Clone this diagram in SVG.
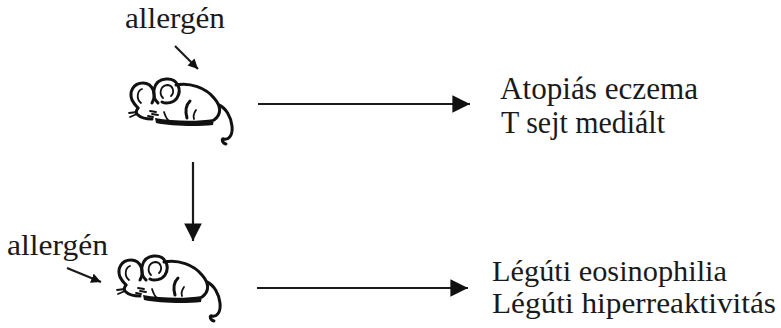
<svg xmlns="http://www.w3.org/2000/svg" xmlns:xlink="http://www.w3.org/1999/xlink" width="781" height="328" viewBox="0 0 781 328">
  <style>
    .lbl { font-family: "Liberation Serif", "Times New Roman", serif; fill: #1a1a1a; }
    .big { font-size: 32px; }
    .mid { font-size: 30px; }
    .small { font-size: 29px; }
    .conn { stroke: #1a1a1a; stroke-width: 2.2; fill: none; }
    .ink { stroke: #111; stroke-width: 3; fill: none; stroke-linecap: round; stroke-linejoin: round; }
    .thin { stroke: #111; stroke-width: 1.8; fill: none; stroke-linecap: round; }
  </style>
  <defs>
    <marker id="head" viewBox="0 0 10 10" refX="10" refY="5" markerWidth="8" markerHeight="8" markerUnits="strokeWidth" orient="auto">
      <path d="M0,0 L10,5 L0,10 Z" fill="#111"/>
    </marker>
    <marker id="headSmall" viewBox="0 0 10 10" refX="10" refY="5" markerWidth="4.5" markerHeight="4.5" markerUnits="strokeWidth" orient="auto">
      <path d="M0,0 L10,5 L0,10 Z" fill="#111"/>
    </marker>
    <!-- sleeping mouse clip-art -->
    <g id="mouse">
      <!-- left ear -->
      <path class="ink" d="M152,103 C157,95 153,83 143,83 C133,83 129,92 132,100 C134,104 136,106 138,108"/>
      <path class="thin" d="M141,103 C136,99 137,91 142,89"/>
      <!-- right ear -->
      <path class="ink" d="M158,103 C151,97 152,80 166,79 C178,78 182,90 177,98 C174,103 166,104 162,102"/>
      <path class="thin" d="M163,98 C159,94 160,86 167,85 C173,85 175,92 171,96"/>
      <!-- body outline -->
      <path class="ink" d="M176,85 C190,82 206,88 214,98 C221,106 222,114 214,120"/>
      <!-- face and snout -->
      <path class="ink" d="M138,108 C136,111 135,113 138,115 C141,118 147,119 152,119"/>
      <path class="thin" d="M150,111 L156,112 M152,114 L158,115 M148,116 L153,117"/>
      <!-- whiskers -->
      <path class="thin" d="M137,112 L129,113 M137,114 L130,117"/>
      <!-- legs -->
      <path class="ink" d="M190,101 C186,105 185,111 187,118"/>
      <path class="thin" d="M196,110 C194,113 193,116 194,119"/>
      <path class="thin" d="M164,112 C165,115 166,118 168,120"/>
      <!-- belly shadow -->
      <path d="M155,118 C172,121 196,122 214,119 L213,125 C196,127 170,126 156,123 Z" fill="#111"/>
      <!-- tail -->
      <path class="ink" d="M219,105 C226,108 231,117 232,126 C233,135 229,140 224,139 C221,138 222,143 226,144"/>
    </g>
  </defs>

  <g id="connectors">
    <line class="conn" x1="258" y1="104" x2="470" y2="104" marker-end="url(#head)"/>
    <line class="conn" x1="193" y1="162" x2="193" y2="241" marker-end="url(#head)"/>
    <line class="conn" x1="257" y1="288" x2="468" y2="288" marker-end="url(#head)"/>
    <line class="conn" x1="175" y1="46" x2="198" y2="69" stroke-width="3.2" marker-end="url(#headSmall)"/>
    <line class="conn" x1="67" y1="268" x2="101" y2="282" stroke-width="3.2" marker-end="url(#headSmall)"/>
  </g>

  <g id="mouse-sensitized">
    <use xlink:href="#mouse"/>
    <text class="lbl small" x="125" y="28" textLength="100" lengthAdjust="spacingAndGlyphs">allergén</text>
  </g>

  <g id="mouse-challenged">
    <use xlink:href="#mouse" transform="translate(-12,177)"/>
    <text class="lbl small" x="7" y="255" textLength="101" lengthAdjust="spacingAndGlyphs">allergén</text>
  </g>

  <g id="outcome-skin">
    <text class="lbl big" x="500" y="99" textLength="198" lengthAdjust="spacingAndGlyphs">Atopiás eczema</text>
    <text class="lbl big" x="501" y="133" textLength="164" lengthAdjust="spacingAndGlyphs">T sejt mediált</text>
  </g>

  <g id="outcome-airway">
    <text class="lbl mid" x="492" y="281" textLength="235" lengthAdjust="spacingAndGlyphs">Légúti eosinophilia</text>
    <text class="lbl mid" x="492" y="313" textLength="284" lengthAdjust="spacingAndGlyphs">Légúti hiperreaktivitás</text>
  </g>
</svg>
